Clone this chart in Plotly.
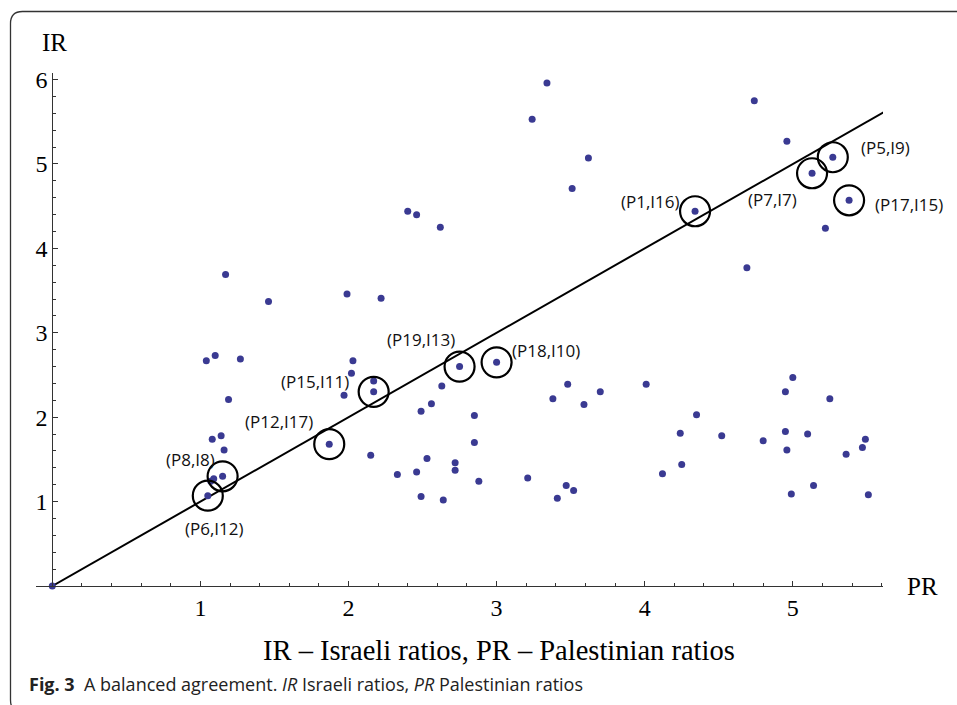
import plotly.graph_objects as go

# ---------------- data ----------------
# unlabelled points (PR, IR)
pr_points = [0.00, 3.34, 3.24, 3.62, 3.51, 2.40, 2.46, 2.62, 4.74, 4.96, 5.22, 4.69,
             1.17, 1.46, 1.04, 1.10, 1.27, 1.19, 1.08, 1.14, 1.16, 1.07, 1.09,
             1.99, 2.22, 2.03, 2.02, 2.17, 1.97, 2.63, 2.56, 2.49, 2.85, 2.85,
             2.15, 2.53, 2.72, 2.72, 2.33, 2.46, 2.49, 2.64, 2.88, 3.21, 3.41,
             3.47, 3.52, 3.38, 3.48, 3.59, 3.70,
             4.01, 5.00, 4.95, 5.25, 4.35, 4.24, 4.52, 4.80, 4.95, 5.10, 4.96,
             5.49, 5.47, 5.36, 4.25, 4.12, 4.99, 5.14, 5.51]
ir_points = [0.00, 5.96, 5.53, 5.07, 4.71, 4.44, 4.40, 4.25, 5.75, 5.27, 4.24, 3.77,
             3.69, 3.37, 2.67, 2.73, 2.69, 2.21, 1.74, 1.78, 1.61, 1.24, 1.27,
             3.46, 3.41, 2.67, 2.52, 2.43, 2.26, 2.37, 2.16, 2.07, 2.02, 1.70,
             1.55, 1.51, 1.46, 1.37, 1.32, 1.35, 1.06, 1.02, 1.24, 1.28, 1.04,
             1.19, 1.13, 2.22, 2.39, 2.15, 2.30,
             2.39, 2.47, 2.30, 2.22, 2.03, 1.81, 1.78, 1.72, 1.83, 1.80, 1.61,
             1.74, 1.64, 1.56, 1.44, 1.33, 1.09, 1.19, 1.08]

# circled (labelled) points
lab_text = ["(P5,I9)", "(P7,I7)", "(P17,I15)", "(P1,I16)", "(P19,I13)",
            "(P18,I10)", "(P15,I11)", "(P12,I17)", "(P8,I8)", "(P6,I12)"]
lab_pr = [5.27, 5.13, 5.38, 4.34, 2.75, 3.00, 2.17, 1.87, 1.15, 1.05]
lab_ir = [5.08, 4.89, 4.57, 4.44, 2.60, 2.65, 2.30, 1.68, 1.30, 1.07]

# balance line IR = PR
line_pr = [0.0, 5.62]
line_ir = [0.0, 5.62]

x_ticks = [1, 2, 3, 4, 5]
y_ticks = [1, 2, 3, 4, 5, 6]

# ---------------- layout constants ----------------
W, H = 957, 705
ML, MR, MT, MB = 36, 74, 73, 119
PW, PH = W - ML - MR, H - MT - MB
XR = [-0.11, 5.609]
YR = [0.0, 6.078]

# label offsets in pixels (dx right, dy down) for each labelled point
lab_off = [(53, -10), (-40, 26), (60, 4), (-45, -10), (-39, -27),
           (49, -12), (-59, -10), (-50, -23), (-32, -17), (7, 33)]


def px(xp):
    return (xp - ML) / PW


def py(yp):
    return (H - MB - yp) / PH


DOT = "#3a3a92"
SERIF = "Liberation Serif, Times New Roman, serif"
SANS = "Open Sans, Noto Sans, sans-serif"

fig = go.Figure()

fig.add_trace(go.Scatter(x=line_pr, y=line_ir, mode="lines",
                         line=dict(color="black", width=2), hoverinfo="skip",
                         cliponaxis=False))
fig.add_trace(go.Scatter(x=pr_points + lab_pr, y=ir_points + lab_ir, mode="markers",
                         marker=dict(color=DOT, size=7), cliponaxis=False))
fig.add_trace(go.Scatter(x=lab_pr, y=lab_ir, mode="markers",
                         marker=dict(symbol="circle-open", size=30, color="black",
                                     line=dict(width=2.2, color="black")),
                         cliponaxis=False))

annotations = []
for t, x, y, (dx, dy) in zip(lab_text, lab_pr, lab_ir, lab_off):
    annotations.append(dict(x=x, y=y, xref="x", yref="y", text=t, showarrow=False,
                            xanchor="center", yanchor="middle",
                            xshift=dx, yshift=-dy,
                            font=dict(family=SANS, size=17, color="#111")))

# axis names
annotations.append(dict(x=px(54), y=py(42), xref="paper", yref="paper", text="IR",
                        xanchor="center", yanchor="middle",
                        showarrow=False, font=dict(family=SERIF, size=25, color="black")))
annotations.append(dict(x=px(922), y=py(586), xref="paper", yref="paper", text="PR",
                        xanchor="center", yanchor="middle",
                        showarrow=False, font=dict(family=SERIF, size=25, color="black")))
annotations.append(dict(x=px(499), y=py(650), xref="paper", yref="paper",
                        xanchor="center", yanchor="middle",
                        text="IR \u2013 Israeli ratios, PR \u2013 Palestinian ratios",
                        showarrow=False, font=dict(family=SERIF, size=28.5, color="black")))
annotations.append(dict(x=px(27), y=py(684), xref="paper", yref="paper",
                        xanchor="left", yanchor="middle",
                        text="<b>Fig. 3</b>\u00a0\u00a0A balanced agreement. <i>IR</i> Israeli ratios, "
                             "<i>PR</i> Palestinian ratios",
                        showarrow=False, font=dict(family=SANS, size=18, color="#222")))

# rounded frame
L, T, R, B, r = 10.5, 11.5, 990, 712, 12
path = (f"M {px(L)},{py(T + r)} Q {px(L)},{py(T)} {px(L + r)},{py(T)} "
        f"L {px(R)},{py(T)} L {px(R)},{py(B)} L {px(L + r)},{py(B)} "
        f"Q {px(L)},{py(B)} {px(L)},{py(B - r)} Z")
shapes = [dict(type="path", xref="paper", yref="paper", path=path,
               line=dict(color="#333", width=1.3), layer="below")]

fig.update_layout(
    width=W, height=H,
    margin=dict(l=ML, r=MR, t=MT, b=MB),
    paper_bgcolor="white", plot_bgcolor="white",
    showlegend=False,
    annotations=annotations,
    shapes=shapes,
    xaxis=dict(range=XR, showgrid=False, zeroline=False, showline=True,
               linecolor="#333", linewidth=1, ticks="inside", ticklen=5, tickwidth=1,
               tickcolor="#333", tickvals=x_ticks, ticktext=[str(v) for v in x_ticks],
               tickfont=dict(family=SERIF, size=24, color="black"),
               minor=dict(dtick=0.2, tick0=0, ticks="inside", ticklen=3, tickcolor="#333",
                          showgrid=False),
               fixedrange=True),
    yaxis=dict(range=YR, showgrid=False, zeroline=False, showline=True,
               anchor="free", position=0.11 / (XR[1] - XR[0]),
               linecolor="#333", linewidth=1, ticks="inside", ticklen=5, tickwidth=1,
               tickcolor="#333", tickvals=y_ticks, ticktext=[str(v) for v in y_ticks],
               tickfont=dict(family=SERIF, size=24, color="black"),
               minor=dict(dtick=0.2, tick0=0, ticks="inside", ticklen=3, tickcolor="#333",
                          showgrid=False),
               fixedrange=True),
)

fig.write_html("out.html",
               config={"displayModeBar": False},
               post_script="document.body.style.margin='0';"
                           "document.body.style.overflow='hidden';")
